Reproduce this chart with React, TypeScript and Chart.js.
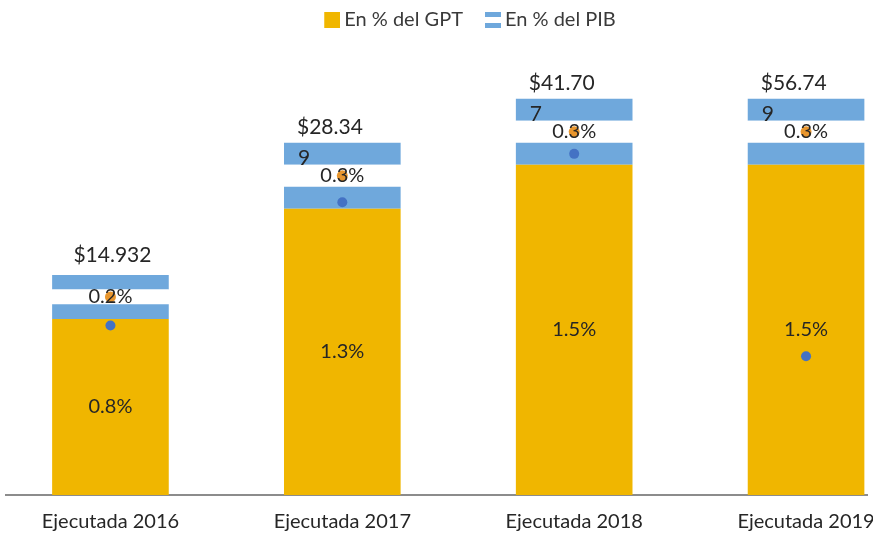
import React, { useEffect, useRef } from 'react';
import { Chart, registerables } from 'chart.js';

Chart.register(...registerables);

// ---- data ----
const categories = ['Ejecutada 2016', 'Ejecutada 2017', 'Ejecutada 2018', 'Ejecutada 2019'];
const gptPct = [0.8, 1.3, 1.5, 1.5];
const pibPct = [0.2, 0.3, 0.3, 0.3];
const totalLabels = [['$14.932'], ['$28.34', '9'], ['$41.70', '7'], ['$56.74', '9']];
const markerValues = [0.77, 1.33, 1.55, 0.63];
const legendLabels = ['En % del GPT', 'En % del PIB'];

// ---- styles ----
const YELLOW = '#F0B600';
const BLUE = '#6FA8DC';
const SUN = '#E8962E';
const DOT = '#4472C4';
const TEXT = '#262626';
const FONT = 'Lato';

function makeIcon(kind: 'gpt' | 'pib') {
  // 28px wide, icon drawn in the right 16px so the gap to the text is small
  const c = document.createElement('canvas');
  c.width = 28;
  c.height = 16;
  const ctx = c.getContext('2d')!;
  const ox = 12;
  if (kind === 'gpt') {
    ctx.fillStyle = YELLOW;
    ctx.fillRect(ox, 0, 16, 16);
  } else {
    ctx.fillStyle = BLUE;
    ctx.fillRect(ox, 0, 16, 5);
    ctx.fillStyle = '#FFFFFF';
    ctx.fillRect(ox, 5, 16, 6);
    ctx.fillStyle = BLUE;
    ctx.fillRect(ox, 11, 16, 5);
  }
  return c;
}

const legendShift = {
  id: 'legendShift',
  afterLayout(chart: any) {
    const lg = chart.legend;
    if (!lg) return;
    const dx = 28;
    const dy = -6;
    lg.left += dx;
    lg.right += dx;
    lg.top += dy;
    lg.bottom += dy;
  },
};

const labelsPlugin = {
  id: 'customLabels',
  afterDatasetsDraw(chart: any) {
    const { ctx, scales } = chart;
    const xs = scales.x;
    const ys = scales.y;
    const barMeta = chart.getDatasetMeta(2);
    ctx.save();
    ctx.fillStyle = TEXT;
    ctx.textBaseline = 'middle';
    for (let i = 0; i < categories.length; i++) {
      const cx = xs.getPixelForValue(i);
      const barLeft = cx - (barMeta.data[i]?.width ?? 116) / 2;
      ctx.font = `20px ${FONT}`;
      ctx.textAlign = 'center';
      ctx.fillText(`${gptPct[i].toFixed(1)}%`, cx, ys.getPixelForValue(gptPct[i] / 2));
      ctx.fillText(`${pibPct[i].toFixed(1)}%`, cx, ys.getPixelForValue(gptPct[i] + pibPct[i] / 2));
      const top = ys.getPixelForValue(gptPct[i] + pibPct[i]);
      const lines = totalLabels[i];
      ctx.font = `21px ${FONT}`;
      if (lines.length === 1) {
        ctx.textAlign = 'center';
        ctx.fillText(lines[0], cx + 2, top - 20);
      } else {
        ctx.textAlign = 'left';
        const left = barLeft + 13;
        ctx.fillText(lines[0], left, top - 16);
        ctx.fillText(lines[1], left + 1, top + 15);
      }
    }
    ctx.restore();
  },
};

export default function App() {
  const ref = useRef<HTMLCanvasElement>(null);
  useEffect(() => {
    document.body.style.margin = '0';
    const third = (v: number) => v / 3;
    const bar = (label: string, vals: number[], color: string) => ({
      type: 'bar' as const,
      label,
      data: vals.map((v, i) => ({ x: i, y: v })),
      backgroundColor: color,
      borderWidth: 0,
      categoryPercentage: 1,
      barPercentage: 0.503,
      stack: 's',
      order: 2,
    });
    const icons = [makeIcon('gpt'), makeIcon('pib')];
    const chart = new Chart(ref.current!, {
      type: 'bar',
      data: {
        datasets: [
          {
            type: 'line' as const,
            label: 'marker',
            stack: 'marker',
            data: markerValues.map((v, i) => ({ x: i, y: v })),
            showLine: false,
            pointRadius: 5,
            pointBackgroundColor: DOT,
            pointBorderWidth: 0,
            order: 0,
          } as any,
          {
            type: 'line' as const,
            label: 'sun',
            stack: 'sun',
            data: gptPct.map((v, i) => ({ x: i, y: v + pibPct[i] / 2 })),
            showLine: false,
            pointRadius: 5.5,
            pointBackgroundColor: SUN,
            pointBorderWidth: 0,
            order: 1,
          } as any,
          bar(legendLabels[0], gptPct, YELLOW),
          bar('pib1', pibPct.map(third), BLUE),
          bar('pib2', pibPct.map(third), '#FFFFFF'),
          bar('pib3', pibPct.map(third), BLUE),
        ],
      },
      options: {
        animation: false,
        responsive: false,
        layout: { padding: { left: 5, right: 0, top: 0, bottom: 0 } },
        plugins: {
          tooltip: { enabled: false },
          legend: {
            position: 'top',
            labels: {
              usePointStyle: true,
              boxWidth: 16,
              boxHeight: 16,
              padding: 16,
              color: '#3A3A3A',
              font: { family: FONT, size: 20 },
              generateLabels: () =>
                legendLabels.map((t, k) => ({
                  text: t,
                  fillStyle: k === 0 ? YELLOW : BLUE,
                  strokeStyle: 'transparent',
                  lineWidth: 0,
                  pointStyle: icons[k] as any,
                  hidden: false,
                  datasetIndex: k === 0 ? 2 : 3,
                  fontColor: '#3A3A3A',
                })),
            },
            onClick: () => {},
          },
        },
        scales: {
          x: {
            type: 'linear',
            stacked: true,
            offset: false,
            min: -0.4526,
            max: 3.265,
            afterBuildTicks: (scale: any) => {
              scale.ticks = categories.map((_, i) => ({ value: i }));
            },
            afterFit: (scale: any) => {
              scale.height = 40;
              scale.paddingRight = 0;
              scale.paddingLeft = 0;
            },
            grid: { display: false, drawTicks: false },
            border: { display: true, color: '#8C8C8C', width: 2 },
            ticks: {
              padding: 15,
              color: TEXT,
              font: { family: FONT, size: 20 },
              maxRotation: 0,
              autoSkip: false,
              callback: (v: any) => categories[v as number] ?? '',
            },
          },
          y: {
            stacked: true,
            display: false,
            min: 0,
            max: 2.04,
          },
        },
      },
      plugins: [legendShift, labelsPlugin],
    } as any);
    return () => chart.destroy();
  }, []);
  return (
    <div style={{ width: 873, height: 535 }}>
      <canvas ref={ref} width={873} height={535} />
    </div>
  );
}
